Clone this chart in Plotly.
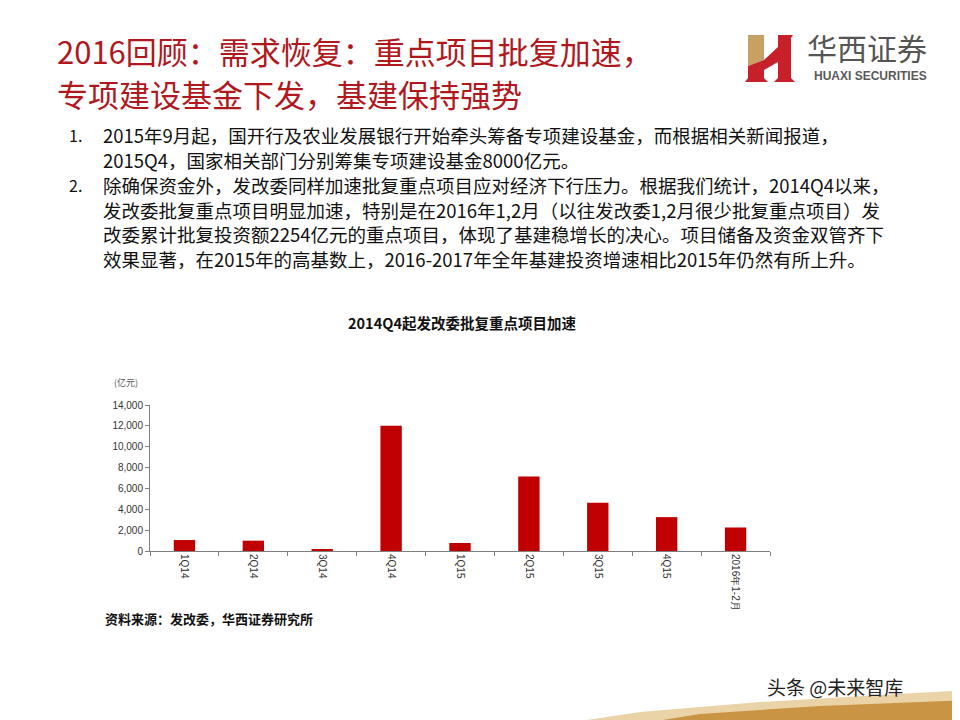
import plotly.graph_objects as go

categories = ["1Q14", "2Q14", "3Q14", "4Q14", "1Q15", "2Q15", "3Q15", "4Q15", "2016年1-2月"]
values = [1050, 990, 190, 12020, 770, 7150, 4620, 3250, 2254]
y_ticks = [0, 2000, 4000, 6000, 8000, 10000, 12000, 14000]

title_lines = ["2016回顾：需求恢复：重点项目批复加速，", "专项建设基金下发，基建保持强势"]
body_lines = [
    ("1.", "2015年9月起，国开行及农业发展银行开始牵头筹备专项建设基金，而根据相关新闻报道，"),
    ("", "2015Q4，国家相关部门分别筹集专项建设基金8000亿元。"),
    ("2.", "除确保资金外，发改委同样加速批复重点项目应对经济下行压力。根据我们统计，2014Q4以来，"),
    ("", "发改委批复重点项目明显加速，特别是在2016年1,2月（以往发改委1,2月很少批复重点项目）发"),
    ("", "改委累计批复投资额2254亿元的重点项目，体现了基建稳增长的决心。项目储备及资金双管齐下"),
    ("", "效果显著，在2015年的高基数上，2016-2017年全年基建投资增速相比2015年仍然有所上升。"),
]
chart_title = "2014Q4起发改委批复重点项目加速"
unit_label = "(亿元)"
source_text = "资料来源：发改委，华西证券研究所"
watermark = "头条 @未来智库"

OFF = 8  # page body margin
W, H = 960 - OFF, 720 - OFF
L, R, T, B = 150 - OFF, 770 - OFF, 405 - OFF, 551 - OFF


def px(x):
    return (x - OFF - L) / (R - L)


def py(y):
    return (B - (y - OFF)) / (B - T)


fig = go.Figure()
fig.add_trace(go.Bar(x=categories, y=values, marker=dict(color="#C00000", line=dict(width=0)),
                     width=0.31))

ann = []
RED = "#B0181E"
CJK = "Noto Sans CJK SC"
for i, t in enumerate(title_lines):
    ann.append(dict(text=t, x=px(55), y=py(50 + 43 * i), xref="paper", yref="paper",
                    xanchor="left", yanchor="middle", showarrow=False,
                    font=dict(family=CJK, size=31, color=RED)))
body_y = [135, 160, 185, 210, 234, 259]
for (num, txt), yy in zip(body_lines, body_y):
    if num:
        ann.append(dict(text=num, x=px(67), y=py(yy), xref="paper", yref="paper",
                        xanchor="left", yanchor="middle", showarrow=False,
                        font=dict(family=CJK, size=16, color="#111111")))
    ann.append(dict(text=txt, x=px(101), y=py(yy), xref="paper", yref="paper",
                    xanchor="left", yanchor="middle", showarrow=False,
                    font=dict(family=CJK, size=18.5, color="#111111")))
ann.append(dict(text="<b>" + chart_title + "</b>", x=px(462), y=py(322), xref="paper", yref="paper",
                xanchor="center", yanchor="middle", showarrow=False,
                font=dict(family=CJK, size=14.5, color="#111111")))
ann.append(dict(text=unit_label, x=px(112), y=py(382), xref="paper", yref="paper",
                xanchor="left", yanchor="middle", showarrow=False,
                font=dict(family=CJK, size=9, color="#555555")))
ann.append(dict(text="<b>" + source_text + "</b>", x=px(103), y=py(618), xref="paper", yref="paper",
                xanchor="left", yanchor="middle", showarrow=False,
                font=dict(family=CJK, size=13, color="#111111")))
ann.append(dict(text="华西证券", x=px(867), y=py(47), xref="paper", yref="paper",
                xanchor="center", yanchor="middle", showarrow=False,
                font=dict(family=CJK, size=30, color="#555555")))
ann.append(dict(text="<b>HUAXI SECURITIES</b>", x=px(870), y=py(76), xref="paper", yref="paper",
                xanchor="center", yanchor="middle", showarrow=False,
                font=dict(family="Liberation Sans", size=12, color="#5A5A5A")))

shapes = []


def path(points):
    s = "M " + " L ".join(f"{px(a):.5f},{py(b):.5f}" for a, b in points) + " Z"
    return s


# gold swoosh at bottom
shapes.append(dict(type="path", xref="paper", yref="paper",
                   path=path([(520, 730), (640, 712), (760, 702), (880, 695), (970, 690), (970, 730)]),
                   fillcolor="#EBD3A8", line=dict(width=0), layer="below"))
shapes.append(dict(type="path", xref="paper", yref="paper",
                   path=path([(600, 730), (700, 714), (820, 706), (970, 700), (970, 730)]),
                   fillcolor="#C99443", line=dict(width=0), layer="below"))
# logo
shapes.append(dict(type="path", xref="paper", yref="paper",
                   path=path([(748, 35), (764, 35), (764, 60), (748, 66)]),
                   fillcolor="#C9A063", line=dict(width=0)))
shapes.append(dict(type="path", xref="paper", yref="paper",
                   path=path([(748, 66), (764, 60), (778, 47), (778, 35), (793, 35), (791, 38),
                              (791, 78), (795, 82), (774, 82), (778, 78), (778, 62), (764, 70),
                              (764, 78), (768, 82), (745, 82), (748, 78)]),
                   fillcolor="#C8202A", line=dict(width=0)))

fig.update_layout(
    width=W, height=H,
    margin=dict(l=L, r=W - R, t=T, b=H - B),
    paper_bgcolor="white", plot_bgcolor="white",
    showlegend=False,
    annotations=ann, shapes=shapes,
    xaxis=dict(type="category", showgrid=False, showline=True, linecolor="#7F7F7F", linewidth=1,
               ticks="outside", tickson="boundaries", ticklen=4, tickcolor="#7F7F7F",
               tickangle=90, tickfont=dict(family="Liberation Sans", size=10, color="#333333")),
    yaxis=dict(range=[0, 14000], tickvals=y_ticks, tickformat=",", showgrid=False, zeroline=False,
               showline=True, linecolor="#7F7F7F", linewidth=1, ticks="outside", ticklen=4,
               tickcolor="#7F7F7F", tickfont=dict(family="Liberation Sans", size=10, color="#333333")),
)
fig.add_annotation(text=watermark, x=px(835), y=py(686), xref="paper", yref="paper",
                   xanchor="center", yanchor="middle", showarrow=False,
                   font=dict(family=CJK, size=19, color="#222222"))

fig.write_html("out.html")
